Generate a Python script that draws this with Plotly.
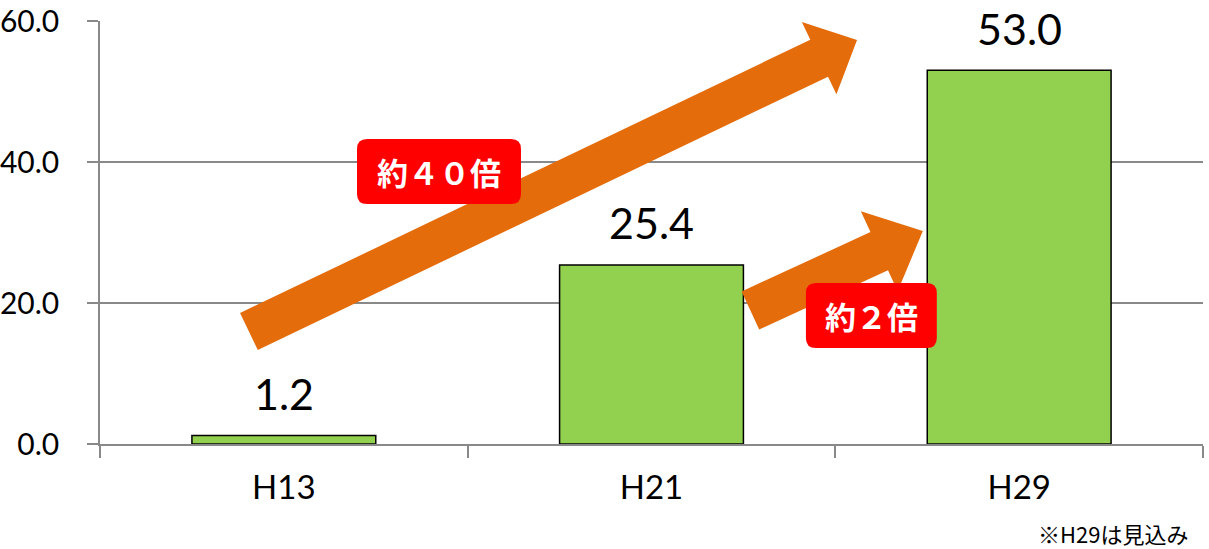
import plotly.graph_objects as go

# --- data ---
categories = ["H13", "H21", "H29"]
values = [1.2, 25.4, 53.0]
value_labels = ["1.2", "25.4", "53.0"]
y_ticks = [0, 20, 40, 60]
y_tick_labels = ["0.0", "20.0", "40.0", "60.0"]

# --- layout geometry (pixels) ---
W, H = 1209, 549
M_L, M_R, M_T, M_B = 100, 6, 21, 105
PLOT_W = W - M_L - M_R
PLOT_H = H - M_T - M_B
X_RANGE = (-0.5, len(categories) - 0.5)
Y_RANGE = (0, 60)

BAR_GREEN = "#92D050"
ARROW_ORANGE = "#E46C0A"
BADGE_RED = "#FF0000"
GRID_GREY = "#898989"

px_per_x = PLOT_W / (X_RANGE[1] - X_RANGE[0])
px_per_y = PLOT_H / (Y_RANGE[1] - Y_RANGE[0])


def to_px(x, y):
    return (x - X_RANGE[0]) * px_per_x, (y - Y_RANGE[0]) * px_per_y


def to_data(px, py):
    return px / px_per_x + X_RANGE[0], py / px_per_y + Y_RANGE[0]


def block_arrow(tail, tip, shaft_w, head_w, head_len):
    """Build an SVG path (data coords) for a straight block arrow."""
    tx, ty = to_px(*tail)
    hx, hy = to_px(*tip)
    dx, dy = hx - tx, hy - ty
    length = (dx ** 2 + dy ** 2) ** 0.5
    ux, uy = dx / length, dy / length
    nx, ny = -uy, ux
    bx, by = hx - ux * head_len, hy - uy * head_len
    pts = [
        (tx + nx * shaft_w / 2, ty + ny * shaft_w / 2),
        (bx + nx * shaft_w / 2, by + ny * shaft_w / 2),
        (bx + nx * head_w / 2, by + ny * head_w / 2),
        (hx, hy),
        (bx - nx * head_w / 2, by - ny * head_w / 2),
        (bx - nx * shaft_w / 2, by - ny * shaft_w / 2),
        (tx - nx * shaft_w / 2, ty - ny * shaft_w / 2),
    ]
    pts = [to_data(*p) for p in pts]
    return "M " + " L ".join(f"{x:.5f},{y:.5f}" for x, y in pts) + " Z"


def rounded_box(x0, x1, y0, y1, r_px):
    """Rounded rectangle path in data coords with corner radius in pixels."""
    rx = r_px / px_per_x
    ry = r_px / px_per_y
    return (
        f"M {x0 + rx},{y0} L {x1 - rx},{y0} Q {x1},{y0} {x1},{y0 + ry} "
        f"L {x1},{y1 - ry} Q {x1},{y1} {x1 - rx},{y1} "
        f"L {x0 + rx},{y1} Q {x0},{y1} {x0},{y1 - ry} "
        f"L {x0},{y0 + ry} Q {x0},{y0} {x0 + rx},{y0} Z"
    )


fig = go.Figure()
fig.add_trace(
    go.Bar(
        x=categories,
        y=values,
        width=0.5,
        marker=dict(color=BAR_GREEN, line=dict(color="#000000", width=1.5)),
        hoverinfo="skip",
    )
)

# value labels above each bar
for cat, v, lab in zip(categories, values, value_labels):
    fig.add_annotation(
        x=cat, y=v, text=lab, showarrow=False, yanchor="middle", yshift=42,
        font=dict(family="Lato", size=43, color="#000000"),
    )

# growth arrows
arrows = [
    dict(tail=(-0.095, 15.96), tip=(1.559, 57.3), shaft_w=41, head_w=80, head_len=42),
    dict(tail=(1.269, 18.94), tip=(1.738, 30.2), shaft_w=42, head_w=88, head_len=48),
]
for a in arrows:
    fig.add_shape(
        type="path", xref="x", yref="y", layer="above",
        path=block_arrow(a["tail"], a["tip"], a["shaft_w"], a["head_w"], a["head_len"]),
        fillcolor=ARROW_ORANGE, line=dict(width=0),
    )

# red badges
badges = [
    dict(x0=0.199, x1=0.645, y0=34.04, y1=43.26, text="約４０倍"),
    dict(x0=1.420, x1=1.776, y0=13.62, y1=22.84, text="約２倍"),
]
for b in badges:
    fig.add_shape(
        type="path", xref="x", yref="y", layer="above",
        path=rounded_box(b["x0"], b["x1"], b["y0"], b["y1"], 10),
        fillcolor=BADGE_RED, line=dict(width=0),
    )
    fig.add_annotation(
        x=(b["x0"] + b["x1"]) / 2, y=(b["y0"] + b["y1"]) / 2, text=f"<b>{b['text']}</b>",
        showarrow=False, xanchor="center", yanchor="middle",
        font=dict(family="Noto Sans CJK JP", size=31, color="#FFFFFF"),
    )

# footnote
fig.add_annotation(
    xref="paper", yref="paper", x=(1036 - M_L) / PLOT_W, y=-(533 - M_T - PLOT_H) / PLOT_H,
    text="※H29は見込み", showarrow=False, xanchor="left", yanchor="middle",
    font=dict(family="Noto Sans CJK JP", size=22, color="#000000"),
)

fig.update_layout(
    width=W, height=H,
    margin=dict(l=M_L, r=M_R, t=M_T, b=M_B, autoexpand=False),
    paper_bgcolor="white", plot_bgcolor="white",
    showlegend=False,
)
fig.update_xaxes(
    type="category", range=list(X_RANGE), tickson="boundaries",
    showgrid=False, zeroline=False, showline=True, linecolor=GRID_GREY, linewidth=1.5,
    ticks="outside", ticklen=12, tickcolor=GRID_GREY, tickwidth=1.5,
    tickfont=dict(family="Lato", size=33, color="#000000"), ticklabelstandoff=14,
    automargin=False,
)
fig.update_yaxes(
    range=list(Y_RANGE), tickmode="array", tickvals=y_ticks, ticktext=y_tick_labels,
    showgrid=True, gridcolor=GRID_GREY, gridwidth=1.5, zeroline=False,
    showline=True, linecolor=GRID_GREY, linewidth=1.5,
    ticks="outside", ticklen=11, tickcolor=GRID_GREY, tickwidth=1.5,
    tickfont=dict(family="Lato", size=30, color="#000000"), ticklabelstandoff=22,
    automargin=False,
)

fig.write_html("out.html")
